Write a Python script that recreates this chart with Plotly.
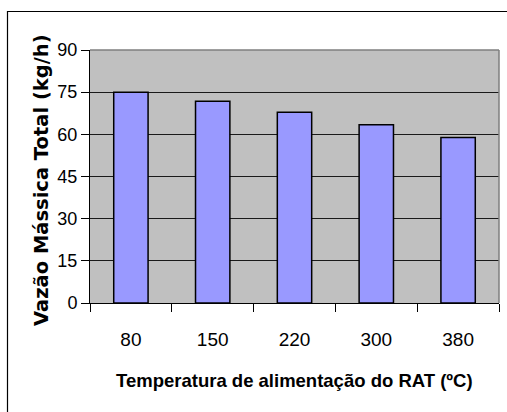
import plotly.graph_objects as go

# Feed temperature of the RAT (°C) and total mass flow (kg/h)
temperaturas = ["80", "150", "220", "300", "380"]
vazao_total = [75.0, 71.8, 67.9, 63.4, 58.9]
y_ticks = [0, 15, 30, 45, 60, 75, 90]

W, H = 507, 412
L, R, T, B = 90, 8, 50, 109
pw, ph = W - L - R, H - T - B


def px_x(x):
    return (x - L) / pw


def px_y(y):
    return (H - B - y) / ph


sans = "Liberation Sans, Arial, sans-serif"

fig = go.Figure(
    go.Bar(
        x=temperaturas,
        y=vazao_total,
        marker=dict(color="#9999FF", line=dict(color="#000000", width=1.5)),
        width=0.42,
    )
)

fig.update_layout(
    width=W,
    height=H,
    margin=dict(l=L, r=R, t=T, b=B),
    paper_bgcolor="white",
    plot_bgcolor="#C0C0C0",
    showlegend=False,
    xaxis=dict(
        type="category",
        tickson="boundaries",
        ticks="outside",
        ticklen=8,
        tickcolor="black",
        showline=True,
        linecolor="black",
        linewidth=1,
        showgrid=False,
        tickfont=dict(family=sans, size=19, color="black"),
        ticklabelstandoff=19,
    ),
    yaxis=dict(
        range=[0, 90],
        tickvals=y_ticks,
        ticks="outside",
        ticklen=8,
        tickcolor="black",
        showline=True,
        linecolor="black",
        linewidth=1,
        showgrid=True,
        gridcolor="#1a1a1a",
        gridwidth=1,
        zeroline=False,
        tickfont=dict(family=sans, size=18, color="black"),
    ),
    annotations=[
        dict(
            text="Vazão Mássica Total (kg/h)",
            xref="paper", yref="paper",
            x=px_x(42), y=px_y(180),
            xanchor="center", yanchor="middle",
            textangle=-90,
            showarrow=False,
            font=dict(family="DejaVu Sans, sans-serif", size=19.5, color="black", weight="bold"),
        ),
        dict(
            text="Temperatura de alimentação do RAT (ºC)",
            xref="paper", yref="paper",
            x=px_x(294), y=px_y(380),
            xanchor="center", yanchor="middle",
            showarrow=False,
            font=dict(family=sans, size=18.5, color="black", weight="bold"),
        ),
    ],
    shapes=[
        # grey top and right edges of the plotting area
        dict(type="line", xref="paper", yref="paper", x0=0, x1=1, y0=1, y1=1,
             line=dict(color="#7f7f7f", width=1.5)),
        dict(type="line", xref="paper", yref="paper", x0=1, x1=1, y0=0, y1=1,
             line=dict(color="#7f7f7f", width=1.5)),
        # outer chart frame
        dict(type="rect", xref="paper", yref="paper",
             x0=px_x(7.5), x1=px_x(520), y0=px_y(430), y1=px_y(11.5),
             line=dict(color="black", width=1.2), fillcolor="rgba(0,0,0,0)"),
    ],
)

fig.write_html("out.html")
